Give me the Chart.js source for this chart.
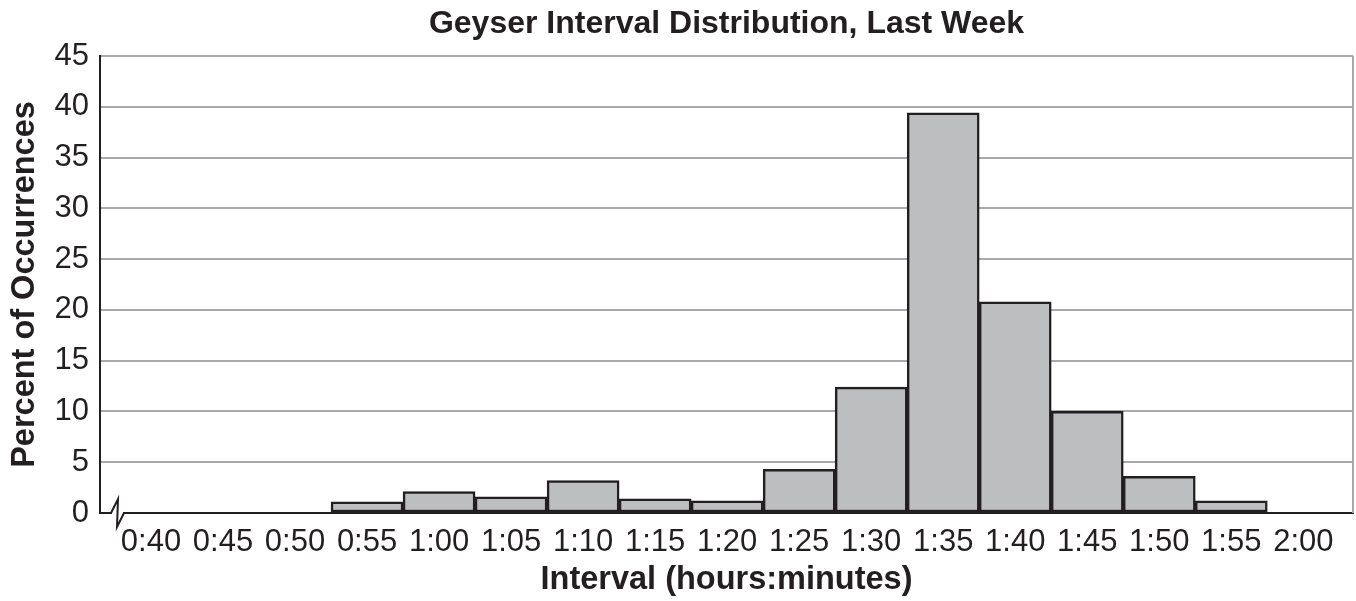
<!DOCTYPE html>
<html>
<head>
<meta charset="utf-8">
<script src="https://cdn.jsdelivr.net/npm/chart.js@4/dist/chart.umd.min.js"></script>
<style>
  html, body { margin: 0; padding: 0; background: #ffffff; }
  #wrap { width: 1356px; height: 601px; position: relative; }
</style>
</head>
<body>
<div id="wrap"><canvas id="c"></canvas></div>
<script>
const categories = ["0:40","0:45","0:50","0:55","1:00","1:05","1:10","1:15","1:20","1:25","1:30","1:35","1:40","1:45","1:50","1:55","2:00"];
const percentValues = [0, 0, 0, 1.1, 2.1, 1.6, 3.2, 1.4, 1.2, 4.3, 12.4, 39.4, 20.8, 10.0, 3.6, 1.2, 0];
const yTicks = [0, 5, 10, 15, 20, 25, 30, 35, 40, 45];

const chartTitle = "Geyser Interval Distribution, Last Week";
const xTitle = "Interval (hours:minutes)";
const yTitle = "Percent of Occurrences";

const ink = "#231f20";
const gridGray = "#a7a9ac";
const barFill = "#bcbec0";
const FONT = "'Liberation Sans', Arial, Helvetica, sans-serif";

const decorPlugin = {
  id: 'decor',
  afterDraw(chart) {
    const ctx = chart.ctx;
    const a = chart.chartArea;
    ctx.save();
    // right border
    ctx.strokeStyle = gridGray;
    ctx.lineWidth = 2;
    ctx.beginPath();
    ctx.moveTo(a.right, a.top);
    ctx.lineTo(a.right, a.bottom);
    ctx.stroke();
    // axis break symbol
    const b = a.bottom;
    const x0 = a.left + 11;
    ctx.strokeStyle = "#ffffff";
    ctx.lineWidth = 5;
    ctx.beginPath();
    ctx.moveTo(x0 + 1, b);
    ctx.lineTo(x0 + 12, b);
    ctx.stroke();
    ctx.strokeStyle = ink;
    ctx.lineWidth = 2;
    ctx.lineJoin = 'miter';
    ctx.beginPath();
    ctx.moveTo(x0, b);
    ctx.lineTo(x0 + 7, b - 14);
    ctx.lineTo(x0 + 6, b + 14);
    ctx.lineTo(x0 + 13, b);
    ctx.stroke();
    ctx.restore();
  }
};

new Chart(document.getElementById('c'), {
  type: 'bar',
  data: {
    datasets: [{
      data: percentValues.map((v, i) => ({ x: i, y: v })),
      backgroundColor: barFill,
      borderColor: ink,
      borderWidth: 2.5,
      borderSkipped: false,
      barPercentage: 1.0,
      categoryPercentage: 1.0
    }]
  },
  options: {
    responsive: true,
    maintainAspectRatio: false,
    animation: false,
    devicePixelRatio: 1,
    layout: { padding: { left: 0, right: 3, top: 0, bottom: 0 } },
    plugins: {
      legend: { display: false },
      tooltip: { enabled: false },
      title: {
        display: true,
        fullSize: false,
        text: chartTitle,
        color: ink,
        font: { family: FONT, size: 32, weight: 'bold' },
        padding: { top: 5, bottom: 12.6 }
      }
    },
    scales: {
      x: {
        type: 'linear',
        min: -0.708,
        max: 16.69,
        offset: false,
        afterFit(scale) { scale.height = 88; },
        afterBuildTicks(scale) {
          scale.ticks = categories.map((_, i) => ({ value: i }));
        },
        ticks: {
          stepSize: 1,
          includeBounds: false,
          autoSkip: false,
          maxRotation: 0,
          minRotation: 0,
          padding: 11,
          color: ink,
          font: { family: FONT, size: 31 },
          callback: (v) => categories[v] !== undefined ? categories[v] : ''
        },
        grid: { display: false, drawTicks: false },
        border: { display: true, color: ink, width: 2 },
        title: {
          display: true,
          text: xTitle,
          color: ink,
          font: { family: FONT, size: 32.5, weight: 'bold' },
          padding: { top: 0, bottom: 1.5 }
        }
      },
      y: {
        min: 0,
        max: 45,
        afterFit(scale) { scale.width = 100; },
        afterBuildTicks(scale) {
          scale.ticks = yTicks.map(v => ({ value: v }));
        },
        ticks: {
          stepSize: 5,
          padding: 11,
          color: ink,
          font: { family: FONT, size: 31 }
        },
        grid: { color: gridGray, lineWidth: 2, drawTicks: false },
        border: { display: true, color: ink, width: 2 },
        title: {
          display: true,
          text: yTitle,
          color: ink,
          font: { family: FONT, size: 32.5, weight: 'bold' },
          padding: { top: 5.5, bottom: 0 }
        }
      }
    }
  },
  plugins: [decorPlugin]
});
</script>
</body>
</html>
